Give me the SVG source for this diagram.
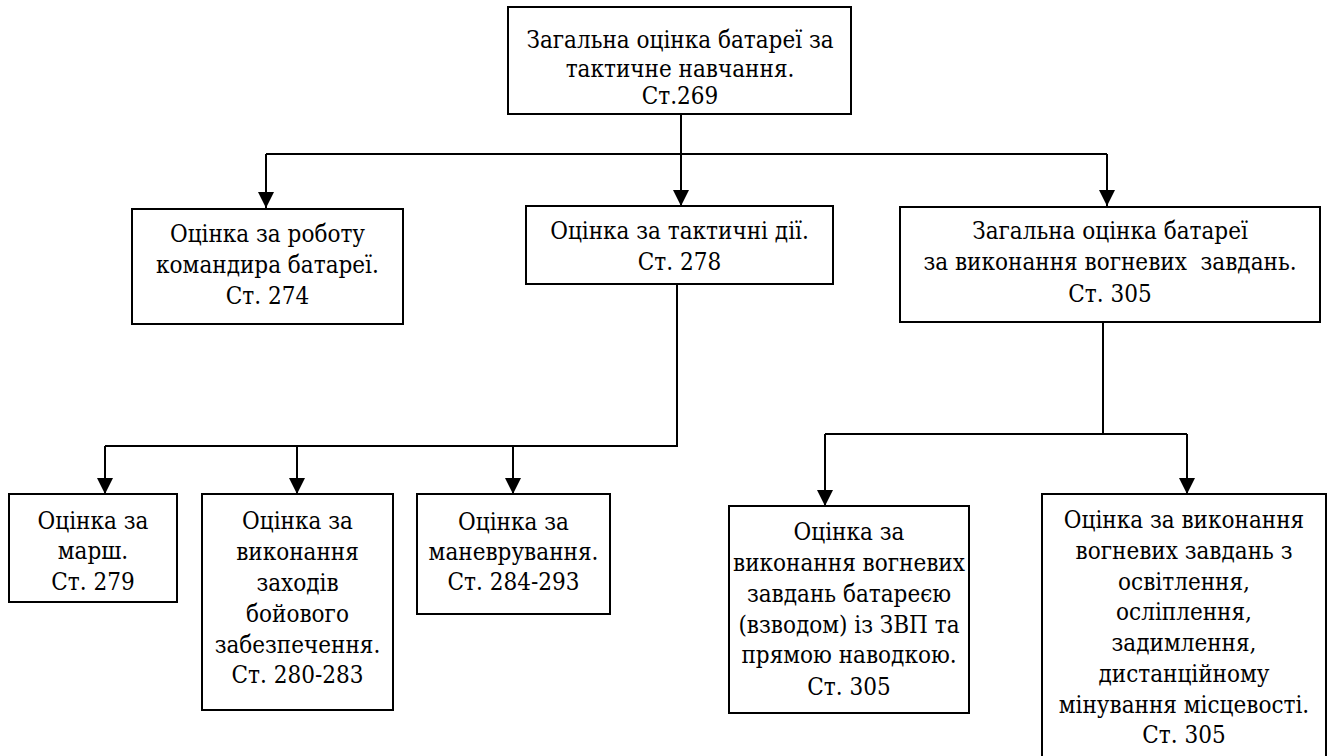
<svg xmlns="http://www.w3.org/2000/svg" width="1332" height="756" viewBox="0 0 1332 756">
<defs>
<marker id="ah" viewBox="0 0 16 16" refX="16" refY="8" markerWidth="16" markerHeight="16" markerUnits="userSpaceOnUse" orient="auto">
<path d="M0,0 L16,8 L0,16 Z" fill="#000"/>
</marker>
</defs>
<style>
.box{fill:#fff;stroke:#000;stroke-width:2}
.ln{fill:none;stroke:#000;stroke-width:2}
.ar{fill:none;stroke:#000;stroke-width:2;marker-end:url(#ah)}
</style>
<rect width="1332" height="756" fill="#fff"/>
<g id="connectors">
<line class="ar" x1="681" y1="114" x2="681" y2="206"/>
<line class="ln" x1="266" y1="154" x2="1107" y2="154"/>
<line class="ar" x1="266" y1="154" x2="266" y2="208"/>
<line class="ar" x1="1107" y1="154" x2="1107" y2="206"/>
<polyline class="ln" points="677,284 677,446 105,446"/>
<line class="ar" x1="105" y1="446" x2="105" y2="494"/>
<line class="ar" x1="297" y1="446" x2="297" y2="494"/>
<line class="ar" x1="513" y1="446" x2="513" y2="494"/>
<polyline class="ln" points="1103,322 1103,434 825,434"/>
<line class="ln" x1="1103" y1="434" x2="1187" y2="434"/>
<line class="ar" x1="825" y1="434" x2="825" y2="506"/>
<line class="ar" x1="1187" y1="434" x2="1187" y2="494"/>
</g>
<g font-size="24" fill="#000" text-anchor="middle" font-family="DejaVu Serif Condensed, serif">
<g id="n-top">
<rect class="box" x="508" y="7" width="343" height="107"/>
<text x="680" y="48">Загальна оцінка батареї за</text>
<text x="680" y="77">тактичне навчання.</text>
<text x="680" y="104">Ст.269</text>
</g>
<g id="n-commander">
<rect class="box" x="132" y="209" width="271" height="115"/>
<text x="267.5" y="242">Оцінка за роботу</text>
<text x="267.5" y="273">командира батареї.</text>
<text x="267.5" y="304">Ст. 274</text>
</g>
<g id="n-tactical">
<rect class="box" x="526" y="206" width="307" height="78"/>
<text x="679.5" y="239">Оцінка за тактичні дії.</text>
<text x="679.5" y="270">Ст. 278</text>
</g>
<g id="n-fire">
<rect class="box" x="900" y="207" width="420" height="115"/>
<text x="1110" y="239">Загальна оцінка батареї</text>
<text x="1110" y="270" xml:space="preserve">за виконання вогневих  завдань.</text>
<text x="1110" y="302">Ст. 305</text>
</g>
<g id="n-march">
<rect class="box" x="9" y="494" width="168" height="108"/>
<text x="93" y="529">Оцінка за</text>
<text x="93" y="559">марш.</text>
<text x="93" y="590">Ст. 279</text>
</g>
<g id="n-support">
<rect class="box" x="202" y="494" width="191" height="216"/>
<text x="297.5" y="529">Оцінка за</text>
<text x="297.5" y="560">виконання</text>
<text x="297.5" y="591">заходів</text>
<text x="297.5" y="622">бойового</text>
<text x="297.5" y="653">забезпечення.</text>
<text x="297.5" y="683">Ст. 280-283</text>
</g>
<g id="n-maneuver">
<rect class="box" x="417" y="494" width="193" height="120"/>
<text x="513.5" y="530">Оцінка за</text>
<text x="513.5" y="560">маневрування.</text>
<text x="513.5" y="590">Ст. 284-293</text>
</g>
<g id="n-direct">
<rect class="box" x="729" y="506" width="240" height="207"/>
<text x="849" y="540">Оцінка за</text>
<text x="849" y="571">виконання вогневих</text>
<text x="849" y="602">завдань батареєю</text>
<text x="849" y="633">(взводом) із ЗВП та</text>
<text x="849" y="663">прямою наводкою.</text>
<text x="849" y="695">Ст. 305</text>
</g>
<g id="n-illum">
<rect class="box" x="1042" y="494" width="284" height="270"/>
<text x="1184" y="528">Оцінка за виконання</text>
<text x="1184" y="559">вогневих завдань з</text>
<text x="1184" y="590">освітлення,</text>
<text x="1184" y="620">осліплення,</text>
<text x="1184" y="651">задимлення,</text>
<text x="1184" y="682">дистанційному</text>
<text x="1184" y="713">мінування місцевості.</text>
<text x="1184" y="743">Ст. 305</text>
</g>
</g>
</svg>
